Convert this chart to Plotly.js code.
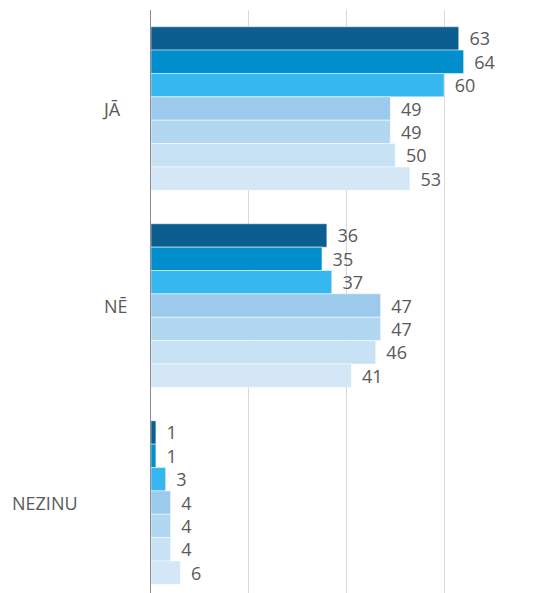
<!DOCTYPE html>
<html>
<head>
<meta charset="utf-8">
<script src="https://cdn.plot.ly/plotly-3.0.1.min.js"></script>
<style>html,body{margin:0;padding:0;background:#fff;}#chart{width:534px;height:593px;}</style>
</head>
<body>
<div id="chart"></div>
<script>
const categories = ["JĀ", "NĒ", "NEZINU"];
const seriesNames = ["1", "2", "3", "4", "5", "6", "7"];
const s1 = [63, 36, 1];
const s2 = [64, 35, 1];
const s3 = [60, 37, 3];
const s4 = [49, 47, 4];
const s5 = [49, 47, 4];
const s6 = [50, 46, 4];
const s7 = [53, 41, 6];
const seriesValues = [s1, s2, s3, s4, s5, s6, s7];
const colors = ["#0B5E8F", "#008FCC", "#36B7EF", "#9BCAEC", "#B2D7F1", "#C8E2F5", "#D3E7F7"];
// horizontal pixel shift of each category label (layout only)
const labelShift = [-40, -35, -106];

const FONT = "Open Sans, Noto Sans, sans-serif";

const traces = seriesValues.map((vals, i) => ({
  type: "bar",
  orientation: "h",
  name: seriesNames[i],
  y: categories,
  x: vals,
  marker: {color: colors[i], line: {color: "rgba(255,255,255,0.6)", width: 0.8}},
  text: vals.map(v => " \u2009" + v),
  textposition: "outside",
  constraintext: "none",
  cliponaxis: false,
  textfont: {family: FONT, size: 18, color: "#595959"},
  hoverinfo: "x+name"
}));

const annotations = categories.map((c, i) => ({
  text: c, xref: "paper", x: 0, yref: "y", y: c,
  xanchor: "center", yanchor: "middle", xshift: labelShift[i],
  showarrow: false, font: {family: FONT, size: 18, color: "#595959"}
}));

const layout = {
  width: 534, height: 593,
  margin: {l: 151, r: 2, t: 10, b: 0},
  paper_bgcolor: "#fff", plot_bgcolor: "#fff",
  showlegend: false,
  barmode: "group",
  bargap: 0.17,
  bargroupgap: 0,
  annotations: annotations,
  xaxis: {range: [0, 78], showticklabels: false, showgrid: true, gridcolor: "#d9d9d9", gridwidth: 1, dtick: 20, zeroline: false, showline: false, ticks: ""},
  yaxis: {type: "category", range: [2.459, -0.5], showline: true, linecolor: "#8c8c8c", linewidth: 1, showgrid: false, ticks: "", showticklabels: false},
  font: {family: FONT, color: "#595959"}
};

Plotly.newPlot("chart", traces, layout, {displayModeBar: false, staticPlot: true});
</script>
</body>
</html>
